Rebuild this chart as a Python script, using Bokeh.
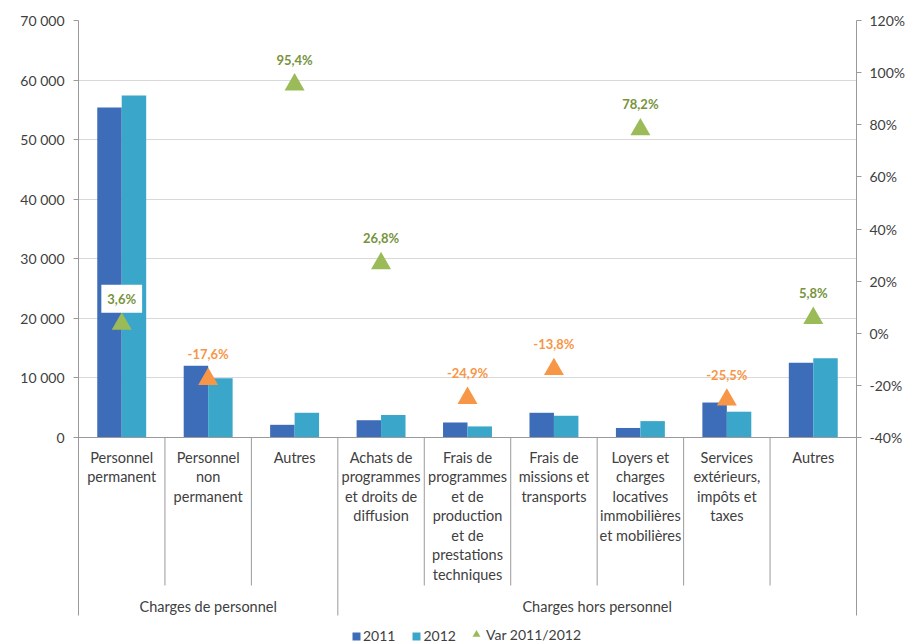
from bokeh.plotting import figure
from bokeh.models import Range1d, LinearAxis, FixedTicker, Legend, LegendItem, ColumnDataSource, PrintfTickFormatter
from bokeh.core.properties import value
from bokeh.embed import file_html
from bokeh.resources import INLINE

# ---------------- data ----------------
categories = [
    "Personnel\npermanent",
    "Personnel\nnon\npermanent",
    "Autres",
    "Achats de\nprogrammes\net droits de\ndiffusion",
    "Frais de\nprogrammes\net de\nproduction\net de\nprestations\ntechniques",
    "Frais de\nmissions et\ntransports",
    "Loyers et\ncharges\nlocatives\nimmobilières\net mobilières",
    "Services\nextérieurs,\nimpôts et\ntaxes",
    "Autres",
]
groups = ["Charges de personnel", "Charges hors personnel"]
group_sizes = [3, 6]
values_2011 = [55400, 12030, 2130, 2900, 2520, 4150, 1600, 5870, 12540]
values_2012 = [57400, 9950, 4150, 3780, 1860, 3650, 2750, 4330, 13300]
var_pct = [3.6, -17.6, 95.4, 26.8, -24.9, -13.8, 78.2, -25.5, 5.8]
left_ticks = [0, 10000, 20000, 30000, 40000, 50000, 60000, 70000]
left_tick_labels = ["0", "10 000", "20 000", "30 000", "40 000", "50 000", "60 000", "70 000"]
right_ticks = [-40, -20, 0, 20, 40, 60, 80, 100, 120]
series_names = ["2011", "2012", "Var 2011/2012"]

# ---------------- style ----------------
FONT = "Lato"
C2011 = "#3D6CB8"
C2012 = "#3AA6CA"
GREEN = "#9BBB59"
GREEN_TXT = "#77933C"
ORANGE = "#F79646"
AXIS = "#9A9A9A"
GRID = "#D9D9D9"
TXT = "#404040"

n = len(categories)
centers = [i + 0.5 for i in range(n)]
bw = 0.283

# pixel geometry: frame top 20, value 0 at 437, category area down to 615, canvas bottom 644
px_main = 417.0
below_lines = 178.0
below = 207.0
ymax = left_ticks[-1]
ymin = -below * ymax / px_main
ybound = -below_lines * ymax / px_main
pmin, pmax = right_ticks[0], right_ticks[-1]
pct_start = pmin - below * (pmax - pmin) / px_main
pct_bound = pmin - below_lines * (pmax - pmin) / px_main

p = figure(width=908, height=644, x_range=Range1d(0, n), y_range=Range1d(ymin, ymax),
           x_axis_location=None, output_backend="svg", toolbar_location=None,
           min_border_left=78, min_border_right=51, min_border_top=20, min_border_bottom=0,
           background_fill_color="white", border_fill_color="white", outline_line_color=None)
p.extra_y_ranges = {"pct": Range1d(pct_start, pmax), "lab": Range1d(below, -px_main)}

# left axis
ya = p.yaxis[0]
ya.ticker = FixedTicker(ticks=left_ticks)
ya.bounds = (ybound, ymax)
ya.major_label_overrides = {t: l for t, l in zip(left_ticks, left_tick_labels)}
ya.axis_line_color = AXIS
ya.major_tick_line_color = AXIS
ya.major_tick_out = 5
ya.major_tick_in = 0
ya.minor_tick_line_color = None
ya.major_label_standoff = 9
ya.major_label_text_font = FONT
ya.major_label_text_font_size = "14px"
ya.major_label_text_color = TXT

p.ygrid.ticker = FixedTicker(ticks=left_ticks)
p.ygrid.grid_line_color = GRID
p.xgrid.grid_line_color = None

ra = LinearAxis(y_range_name="pct", ticker=FixedTicker(ticks=right_ticks),
                formatter=PrintfTickFormatter(format="%d%%"), bounds=(pct_bound, pmax))
ra.axis_line_color = AXIS
ra.major_tick_line_color = AXIS
ra.major_tick_out = 5
ra.major_tick_in = 0
ra.minor_tick_line_color = None
ra.major_label_standoff = 8
ra.major_label_text_font = FONT
ra.major_label_text_font_size = "14px"
ra.major_label_text_color = TXT
p.add_layout(ra, "right")

# bars
b1 = p.vbar(x=[c - bw / 2 for c in centers], top=values_2011, bottom=0, width=bw,
            fill_color=C2011, line_color=None)
b2 = p.vbar(x=[c + bw / 2 for c in centers], top=values_2012, bottom=0, width=bw,
            fill_color=C2012, line_color=None)

# variation markers
mcol = [GREEN if v >= 0 else ORANGE for v in var_pct]
tcol = [GREEN_TXT if v >= 0 else ORANGE for v in var_pct]
labels = [("%.1f%%" % v).replace(".", ",") for v in var_pct]
tri = p.scatter(x=centers, y=var_pct, marker="triangle", size=20, fill_color=mcol,
                line_color=None, y_range_name="pct")

boxed = [0]
plain = [i for i in range(n) if i not in boxed]
src_plain = ColumnDataSource(dict(x=[centers[i] for i in plain], y=[var_pct[i] for i in plain],
                                  t=[labels[i] for i in plain], c=[tcol[i] for i in plain]))
src_box = ColumnDataSource(dict(x=[centers[i] for i in boxed], y=[var_pct[i] for i in boxed],
                                t=[labels[i] for i in boxed], c=[tcol[i] for i in boxed]))
p.text(x="x", y="y", text="t", source=src_plain, y_range_name="pct", y_offset=-25,
       text_align="center", text_baseline="middle", text_color="c",
       text_font=value(FONT), text_font_size="13px", text_font_style="bold")
p.text(x="x", y="y", text="t", source=src_box, y_range_name="pct", y_offset=-25,
       text_align="center", text_baseline="middle", text_color="c",
       text_font=value(FONT), text_font_size="13px", text_font_style="bold",
       background_fill_color="white", padding=6)

# category axis area
p.segment(x0=[0], y0=[0], x1=[n], y1=[0], y_range_name="lab", line_color=AXIS, line_width=1)
bounds = [0]
for s in group_sizes:
    bounds.append(bounds[-1] + s)
cat_div = [i for i in range(1, n) if i not in bounds]
p.segment(x0=cat_div, y0=[0] * len(cat_div), x1=cat_div, y1=[148] * len(cat_div),
          y_range_name="lab", line_color=AXIS, line_width=1)
grp_div = [b for b in bounds if 0 < b < n]
p.segment(x0=grp_div, y0=[0] * len(grp_div), x1=grp_div, y1=[below_lines] * len(grp_div),
          y_range_name="lab", line_color=AXIS, line_width=1)

p.text(x=centers, y=[11] * n, text=categories, y_range_name="lab",
       text_align="center", text_baseline="top", text_color=TXT,
       text_font=value(FONT), text_font_size="14.5px", text_line_height=1.15)
gx = [(bounds[i] + bounds[i + 1]) / 2 for i in range(len(groups))]
p.text(x=gx, y=[169] * len(groups), text=groups, y_range_name="lab",
       text_align="center", text_baseline="middle", text_color=TXT,
       text_font=value(FONT), text_font_size="14.5px")

# legends (inside the extended frame, below the category area)
legA = Legend(items=[LegendItem(label=series_names[0], renderers=[b1]),
                     LegendItem(label=series_names[1], renderers=[b2])],
              location=(273, 0), orientation="horizontal", glyph_width=10, glyph_height=10,
              label_height=14, label_standoff=2, spacing=16, padding=0, margin=0,
              border_line_color=None, background_fill_alpha=0,
              label_text_font=FONT, label_text_font_size="14px", label_text_color=TXT)
legB = Legend(items=[LegendItem(label=series_names[2], renderers=[tri], index=0)],
              location=(388, 0), orientation="horizontal", glyph_width=20, glyph_height=20,
              label_height=14, label_standoff=0, padding=0, margin=0,
              border_line_color=None, background_fill_alpha=0,
              label_text_font=FONT, label_text_font_size="14px", label_text_color=TXT)
p.add_layout(legA)
p.add_layout(legB)

open("out.html", "w").write(file_html(p, INLINE))
